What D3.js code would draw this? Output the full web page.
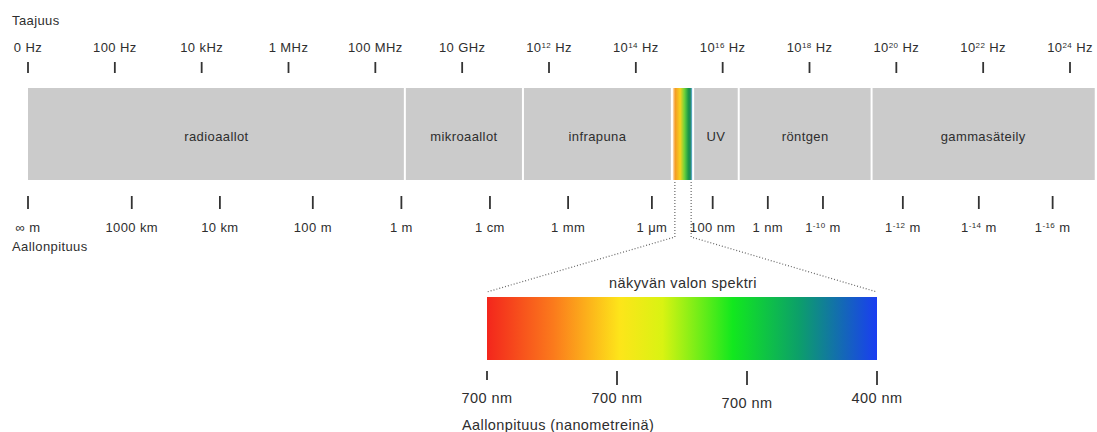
<!DOCTYPE html>
<html>
<head>
<meta charset="utf-8">
<script src="https://cdn.jsdelivr.net/npm/d3@7"></script>
<style>
  body { margin: 0; background: #fff; }
  text { font-family: "Liberation Sans", Arial, sans-serif; fill: #2e2e2e; letter-spacing: 0.4px; }
</style>
</head>
<body>
<svg width="1097" height="432"></svg>
<script>
// frequency axis (log10 of Hz)
const freqExponents = [0, 2, 4, 6, 8, 10, 12, 14, 16, 18, 20, 22, 24];
const freqLabels = ["0 Hz", "100 Hz", "10 kHz", "1 MHz", "100 MHz", "10 GHz",
    "10^{12} Hz", "10^{14} Hz", "10^{16} Hz", "10^{18} Hz", "10^{20} Hz", "10^{22} Hz", "10^{24} Hz"];

// bands, edges given on the same exponent axis
const bandNames = ["radioaallot", "mikroaallot", "infrapuna", "", "UV", "röntgen", "gammasäteily"];
const bandEdges = [0, 8.68, 11.4, 14.83, 15.32, 16.37, 19.43, 24.57];

// wavelength ticks, placed where they sit on the exponent axis
const waveAt = [0, 2.39, 4.42, 6.56, 8.6, 10.64, 12.44, 14.37, 15.77, 17.04, 18.31, 20.15, 21.9, 23.6];
const waveLabels = ["∞ m", "1000 km", "10 km", "100 m", "1 m", "1 cm", "1 mm", "1 μm", "100 nm",
    "1 nm", "1^{-10} m", "1^{-12} m", "1^{-14} m", "1^{-16} m"];

// visible light zoom-in
const visibleLabels = ["700 nm", "700 nm", "700 nm", "400 nm"];
const visibleColors = ["#f3261c", "#fb7a1c", "#fde51a", "#d9f312", "#12e81e", "#0c9f6a", "#1a3df2"];
const visibleOffsets = [0, 0.17, 0.34, 0.45, 0.63, 0.8, 1];
const stripColors = ["#fbe3c0", "#f59a26", "#f6d21d", "#6fd23a", "#1c9a48", "#1d8658", "#6cb6ea"];
const stripOffsets = [0, 0.12, 0.38, 0.6, 0.8, 0.9, 1];

const svg = d3.select("svg");
const x = d3.scaleLinear().domain([0, 24]).range([28, 1070]);
const xv = d3.scalePoint().domain(d3.range(visibleLabels.length)).range([487, 877]);

// writes "10^{12} Hz" as text with a superscript tspan
function richText(sel, str) {
    const parts = str.split(/\^\{(.*?)\}/);
    parts.forEach((p, i) => {
        if (!p) return;
        if (i % 2 === 1) {
            sel.append("tspan").attr("font-size", 8).attr("baseline-shift", "4").text(p);
        } else {
            sel.append("tspan").text(p);
        }
    });
}

const defs = svg.append("defs");
function gradient(id, colors, offsets) {
    const g = defs.append("linearGradient").attr("id", id);
    g.selectAll("stop").data(colors).enter().append("stop")
        .attr("offset", (d, i) => offsets[i])
        .attr("stop-color", d => d);
}
gradient("strip", stripColors, stripOffsets);
gradient("visible", visibleColors, visibleOffsets);

// titles
svg.append("text").attr("x", 12).attr("y", 25).attr("font-size", 13).text("Taajuus");
svg.append("text").attr("x", 12).attr("y", 251).attr("font-size", 13).text("Aallonpituus");

// top axis
const freqAxis = svg.append("g");
freqAxis.selectAll("line").data(freqExponents).enter().append("line")
    .attr("x1", d => x(d)).attr("x2", d => x(d))
    .attr("y1", 62).attr("y2", 73)
    .attr("stroke", "#333").attr("stroke-width", 1.8);
freqAxis.selectAll("text").data(freqLabels).enter().append("text")
    .attr("x", (d, i) => x(freqExponents[i]))
    .attr("y", 52)
    .attr("text-anchor", "middle")
    .attr("font-size", 13)
    .each(function(d) { richText(d3.select(this), d); });

// band
const band = svg.append("g");
band.selectAll("rect").data(bandNames).enter().append("rect")
    .attr("x", (d, i) => x(bandEdges[i]) + (i ? 1 : 0))
    .attr("width", (d, i) => x(bandEdges[i + 1]) - x(bandEdges[i]) - (i ? 1 : 0) - (i < bandNames.length - 1 ? 1 : 0))
    .attr("y", 88).attr("height", 92)
    .attr("fill", (d, i) => d === "" ? "url(#strip)" : "#cbcbcb");
band.selectAll("text").data(bandNames).enter().append("text")
    .attr("x", (d, i) => (x(bandEdges[i]) + x(bandEdges[i + 1])) / 2)
    .attr("y", 141)
    .attr("text-anchor", "middle")
    .attr("font-size", 13)
    .attr("fill", "#333")
    .text(d => d);

// bottom axis
const waveAxis = svg.append("g");
waveAxis.selectAll("line").data(waveAt).enter().append("line")
    .attr("x1", d => x(d)).attr("x2", d => x(d))
    .attr("y1", 196).attr("y2", 209)
    .attr("stroke", "#333").attr("stroke-width", 1.8);
waveAxis.selectAll("text").data(waveLabels).enter().append("text")
    .attr("x", (d, i) => x(waveAt[i]))
    .attr("y", 232)
    .attr("text-anchor", "middle")
    .attr("font-size", 13)
    .each(function(d) { richText(d3.select(this), d); });

// dotted zoom lines from the strip to the visible spectrum
const sx0 = x(bandEdges[3]) + 3, sx1 = x(bandEdges[4]) - 2;
const zoomLines = [
    [[sx0, 182], [sx0, 237], [xv(0), 292]],
    [[sx1, 182], [sx1, 237], [xv(3), 292]]
];
svg.selectAll(".zoomline").data(zoomLines).enter().append("path")
    .attr("class", "zoomline")
    .attr("d", d3.line())
    .attr("fill", "none")
    .attr("stroke", "#666")
    .attr("stroke-width", 1.2)
    .attr("stroke-dasharray", "1,2");

// visible spectrum
svg.append("text").attr("x", 683).attr("y", 288)
    .attr("text-anchor", "middle").attr("font-size", 14.5)
    .text("näkyvän valon spektri");
svg.append("rect")
    .attr("x", xv(0)).attr("width", xv(3) - xv(0))
    .attr("y", 297).attr("height", 63)
    .attr("fill", "url(#visible)");

const vis = svg.append("g");
vis.selectAll("line").data(visibleLabels).enter().append("line")
    .attr("x1", (d, i) => xv(i)).attr("x2", (d, i) => xv(i))
    .attr("y1", 371).attr("y2", (d, i) => i === 0 ? 380 : 385)
    .attr("stroke", "#333").attr("stroke-width", 1.8);
vis.selectAll("text").data(visibleLabels).enter().append("text")
    .attr("x", (d, i) => xv(i))
    .attr("y", (d, i) => i === 2 ? 408 : 403)
    .attr("text-anchor", "middle")
    .attr("font-size", 14.5)
    .text(d => d);
svg.append("text").attr("x", 462).attr("y", 430).attr("font-size", 14.5)
    .text("Aallonpituus (nanometreinä)");
</script>
</body>
</html>
